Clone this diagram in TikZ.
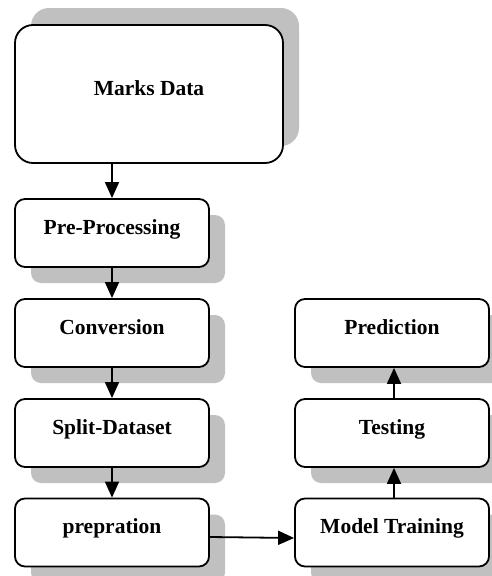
\documentclass[tikz,border=0pt]{standalone}
\usepackage{fontspec}
\setmainfont{Liberation Serif}
\usetikzlibrary{shadows,arrows.meta}
\definecolor{shadowgray}{RGB}{192,192,192}
\begin{document}
\begin{tikzpicture}[x=1pt,y=-1pt,
  box/.style={draw,line width=1.8pt,fill=white,rounded corners=10pt,minimum width=194pt,minimum height=68pt,inner sep=0pt,
    general shadow={shadow xshift=16pt,shadow yshift=-16pt,fill=shadowgray,draw=none}},
  bigbox/.style={draw,line width=1.8pt,fill=white,rounded corners=18pt,minimum width=268pt,minimum height=138pt,inner sep=0pt,
    general shadow={shadow xshift=16pt,shadow yshift=17pt,fill=shadowgray,draw=none}},
  lbl/.style={anchor=base,inner sep=0pt,font=\fontsize{21.5}{25}\selectfont\bfseries},
  arr/.style={line width=1.8pt,-{Triangle[width=14pt,length=16pt]}}]
\useasboundingbox (0,0) rectangle (492,576);
\node[bigbox] (marks) at (149,94) {};
\node[box] (pre) at (112,233) {};
\node[box] (conv) at (112,333) {};
\node[box] (split) at (112,433) {};
\node[box] (prep) at (112,532.5) {};
\node[box] (model) at (392,532.5) {};
\node[box] (test) at (392,433) {};
\node[box] (pred) at (392,333) {};
\node[lbl] (tmarks) at ([yshift=-1pt]marks.center) {Marks Data};
\node[lbl] (tpre) at ([yshift=-1pt]pre.center) {Pre-Processing};
\node[lbl] (tconv) at ([yshift=-1pt]conv.center) {Conversion};
\node[lbl] (tsplit) at ([yshift=-1pt]split.center) {Split-Dataset};
\node[lbl] (tprep) at ([yshift=-1pt]prep.center) {prepration};
\node[lbl] (tmodel) at ([yshift=-1pt]model.center) {Model Training};
\node[lbl] (ttest) at ([yshift=-1pt]test.center) {Testing};
\node[lbl] (tpred) at ([yshift=-1pt]pred.center) {Prediction};
\draw[arr] (pre.north |- marks.south) -- (pre.north);
\draw[arr] (pre) -- (conv);
\draw[arr] (conv) -- (split);
\draw[arr] (split) -- (prep);
\draw[arr] ([yshift=-4.5pt]prep.east) -- ([yshift=-5.5pt]model.west);
\draw[arr] ([xshift=2pt]model.north) -- ([xshift=2pt]test.south);
\draw[arr] ([xshift=2pt]test.north) -- ([xshift=2pt]pred.south);
\end{tikzpicture}
\end{document}
